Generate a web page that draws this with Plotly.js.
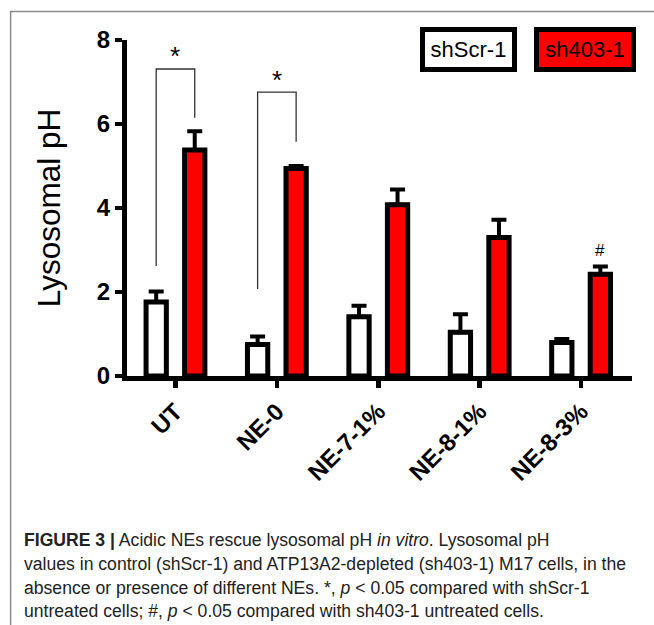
<!DOCTYPE html>
<html>
<head>
<meta charset="utf-8">
<script src="https://cdn.plot.ly/plotly-3.0.1.min.js"></script>
<style>
  html, body { margin: 0; padding: 0; background: #fff; }
  #chart { width: 654px; height: 625px; }
</style>
</head>
<body>
<div id="chart"></div>
<script>
// ---- data ----
const categories = ["UT", "NE-0", "NE-7-1%", "NE-8-1%", "NE-8-3%"];
const seriesNames = ["shScr-1", "sh403-1"];
const shScrValues = [1.76, 0.75, 1.41, 1.04, 0.80];
const shScrErrors = [0.25, 0.19, 0.26, 0.43, 0.08];
const sh403Values = [5.38, 4.94, 4.08, 3.30, 2.42];
const sh403Errors = [0.45, 0.06, 0.36, 0.42, 0.19];
const noLowerError = [0, 0, 0, 0, 0];
const yTicks = [0, 2, 4, 6, 8];
const yTitle = "Lysosomal pH";
// significance brackets: category index, top, left-end bottom, right-end bottom, star position
const sigIndex = [0, 1];
const sigTop = [7.31, 6.76];
const sigLeftBottom = [2.62, 2.07];
const sigRightBottom = [6.15, 5.58];
const sigLabel = ["*", "*"];
const sigLabelY = [7.22, 6.65];
const hashIndex = [4];
const hashLabelY = [2.71];
const captionLines = [
  "<b>FIGURE 3 |</b> Acidic NEs rescue lysosomal pH <i>in vitro</i>. Lysosomal pH",
  "values in control (shScr-1) and ATP13A2-depleted (sh403-1) M17 cells, in the",
  "absence or presence of different NEs. *, <i>p</i> &lt; 0.05 compared with shScr-1",
  "untreated cells; #, <i>p</i> &lt; 0.05 compared with sh403-1 untreated cells."
];

// ---- layout geometry ----
const W = 654, H = 625;
const M = { l: 126.5, r: 22, t: 39.5, b: 248.5 };
const plotW = W - M.l - M.r, plotH = H - M.t - M.b;
const px2x = (px) => (px - M.l) / plotW;
const py2y = (py) => (H - M.b - py) / plotH;
const barHalfOffset = 0.19;
const barWidth = 0.2;
const FONT = "Arial, Liberation Sans, sans-serif";

const traces = [
  {
    type: "bar", name: seriesNames[0], x: categories, y: shScrValues,
    width: barWidth, offset: -barHalfOffset - barWidth / 2,
    marker: { color: "#ffffff", line: { color: "#000", width: 5 } },
    error_y: { type: "data", array: shScrErrors, arrayminus: noLowerError, symmetric: false,
               color: "#000", thickness: 4, width: 7.5 },
    showlegend: false, hoverinfo: "x+y"
  },
  {
    type: "bar", name: seriesNames[1], x: categories, y: sh403Values,
    width: barWidth, offset: barHalfOffset - barWidth / 2,
    marker: { color: "#ff0000", line: { color: "#000", width: 5 } },
    error_y: { type: "data", array: sh403Errors, arrayminus: noLowerError, symmetric: false,
               color: "#000", thickness: 4, width: 7.5 },
    showlegend: false, hoverinfo: "x+y"
  }
];

const shapes = [];
sigIndex.forEach((ci, k) => {
  const xl = ci - barHalfOffset, xr = ci + barHalfOffset;
  shapes.push({
    type: "path", xref: "x", yref: "y",
    path: `M ${xl} ${sigLeftBottom[k]} L ${xl} ${sigTop[k]} L ${xr} ${sigTop[k]} L ${xr} ${sigRightBottom[k]}`,
    line: { color: "#333", width: 1.3 }
  });
});
// outer figure frame
shapes.push({
  type: "rect", xref: "paper", yref: "paper",
  x0: px2x(10), x1: px2x(700), y0: py2y(700), y1: py2y(11),
  line: { color: "#8a8a8a", width: 1.5 }, layer: "below"
});

const annotations = [];
sigIndex.forEach((ci, k) => {
  annotations.push({
    x: ci, y: sigLabelY[k], xref: "x", yref: "y", text: sigLabel[k], showarrow: false,
    xanchor: "center", yanchor: "bottom",
    font: { family: FONT, size: 26, color: "#000" }
  });
});
hashIndex.forEach((ci, k) => {
  annotations.push({
    x: ci + barHalfOffset, y: hashLabelY[k], xref: "x", yref: "y", text: "#", showarrow: false,
    xanchor: "center", yanchor: "bottom",
    font: { family: FONT, size: 17, color: "#000" }
  });
});
// legend boxes
const legendBoxes = [
  { name: seriesNames[0], cx: 468.5, w: 77, bg: "#ffffff" },
  { name: seriesNames[1], cx: 585, w: 82, bg: "#ff0000" }
];
legendBoxes.forEach((b) => {
  annotations.push({
    x: px2x(b.cx), y: py2y(49.5), xref: "paper", yref: "paper",
    xanchor: "center", yanchor: "middle", showarrow: false,
    text: b.name, width: b.w, height: 25, borderpad: 5, borderwidth: 5,
    bordercolor: "#000", bgcolor: b.bg,
    font: { family: FONT, size: 22, color: "#000" }
  });
});
// caption
const captionY = [541, 565, 589, 612];
captionLines.forEach((t, i) => {
  annotations.push({
    x: px2x(21), y: py2y(captionY[i]), xref: "paper", yref: "paper",
    xanchor: "left", yanchor: "middle", showarrow: false, align: "left",
    text: t, font: { family: FONT, size: 17.6, color: "#222" }
  });
});

const layout = {
  width: W, height: H,
  margin: M,
  paper_bgcolor: "#fff", plot_bgcolor: "#fff",
  showlegend: false,
  barmode: "overlay",
  font: { family: FONT, color: "#000" },
  xaxis: {
    type: "category", range: [-0.478, 4.502],
    showline: true, linecolor: "#000", linewidth: 5,
    ticks: "outside", ticklen: 7, tickwidth: 4.5, tickcolor: "#000",
    tickangle: -45, showgrid: false, zeroline: false, automargin: false,
    tickfont: { family: FONT, size: 24, weight: "bold", color: "#000" }
  },
  yaxis: {
    range: [0, 8], tickvals: yTicks, ticktext: yTicks.map(String),
    showline: true, linecolor: "#000", linewidth: 5,
    ticks: "outside", ticklen: 7, tickwidth: 4.5, tickcolor: "#000",
    showgrid: false, zeroline: false, automargin: false,
    tickfont: { family: FONT, size: 24, weight: "bold", color: "#000" },
    title: { text: yTitle, standoff: 28, font: { family: FONT, size: 31.5, color: "#000" } }
  },
  shapes: shapes,
  annotations: annotations
};

Plotly.newPlot("chart", traces, layout, { displayModeBar: false, staticPlot: true });
</script>
</body>
</html>
